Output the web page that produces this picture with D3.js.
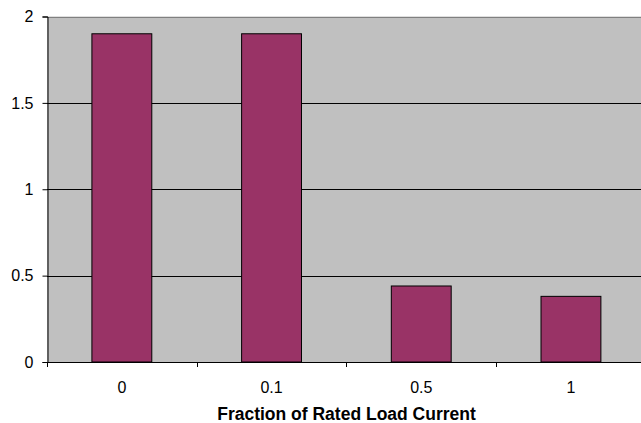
<!DOCTYPE html>
<html><head><meta charset="utf-8">
<script src="https://cdn.jsdelivr.net/npm/d3@7"></script>
<style>body{margin:0;background:#fff}svg{display:block}text{font-family:"Liberation Sans",Arial,sans-serif}</style>
</head><body>
<svg id="c" width="641" height="423"></svg>
<script>
const categories = ["0", "0.1", "0.5", "1"];
const values = [1.9, 1.9, 0.44, 0.38];
const yTicks = [0, 0.5, 1, 1.5, 2];
const xTitle = "Fraction of Rated Load Current";

(function () {
const svg = d3.select("#c");
const left = 47, plotTop = 16.5, bottom = 362, bandW = 149.7;
const x = d3.scaleBand().domain(categories).range([left, left + bandW * categories.length]).paddingInner(0).paddingOuter(0);
const y = d3.scaleLinear().domain([0, 2]).range([bottom, plotTop]);

svg.append("rect").attr("x", left).attr("y", plotTop).attr("width", 641 - left).attr("height", bottom - plotTop).attr("fill", "#c0c0c0");

svg.append("g").selectAll("line").data(yTicks.filter(d => d > 0)).join("line")
  .attr("x1", left).attr("x2", 641)
  .attr("y1", d => Math.round(y(d)) + 0.5).attr("y2", d => Math.round(y(d)) + 0.5)
  .attr("stroke", d => d === 2 ? "#808080" : "#000").attr("stroke-width", 1);

const bw = bandW * 0.4;
svg.append("g").selectAll("rect").data(values).join("rect")
  .attr("x", (d, i) => x(categories[i]) + (bandW - bw) / 2)
  .attr("y", d => y(d))
  .attr("width", bw)
  .attr("height", d => bottom - y(d))
  .attr("fill", "#993366").attr("stroke", "#000").attr("stroke-width", 1);

const ya = svg.append("g").attr("transform", `translate(${left + 0.5},0)`)
  .call(d3.axisLeft(y).tickValues(yTicks).tickSize(5).tickPadding(9).tickFormat(d => String(d)));
ya.select(".domain").attr("stroke", "#000");
ya.selectAll(".tick line").attr("stroke", "#000");
ya.selectAll("text").style("font-size", "16px").attr("fill", "#000");

const xa = svg.append("g").attr("transform", `translate(0,${bottom + 0.5})`)
  .call(d3.axisBottom(x).tickSize(0).tickPadding(19));
xa.select(".domain").remove();
xa.selectAll("text").style("font-size", "16px").attr("fill", "#000");
svg.append("line").attr("x1", left).attr("x2", 641).attr("y1", bottom + 0.5).attr("y2", bottom + 0.5).attr("stroke", "#000");
const seps = categories.map(c => x(c)).concat([left + bandW * categories.length]);
svg.append("g").selectAll("line").data(seps).join("line")
  .attr("x1", d => Math.round(d) + 0.5).attr("x2", d => Math.round(d) + 0.5)
  .attr("y1", bottom).attr("y2", bottom + 5).attr("stroke", "#000");

svg.append("text").attr("x", 346.5).attr("y", 420)
  .attr("text-anchor", "middle").style("font-size", "17.5px").attr("font-weight", "bold").text(xTitle);
})();
</script>
</body></html>
